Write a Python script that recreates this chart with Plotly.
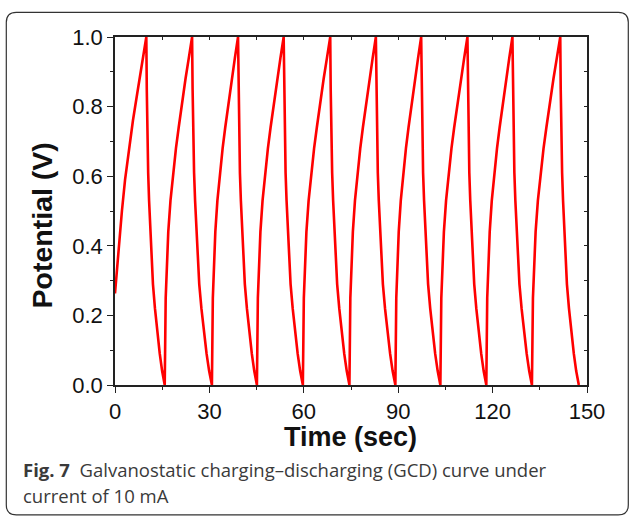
import plotly.graph_objects as go

# ---- data (time in s, potential in V) ----
time_s = [
    0.00, 0.60, 1.30, 2.20, 3.20, 4.40, 5.70, 7.10, 8.50, 9.95,
    10.10, 10.21, 10.34, 10.54, 10.83, 11.18, 11.53, 12.06, 12.70, 13.46, 14.22, 14.98, 15.80,
    16.11, 16.50, 16.93, 17.63, 18.50, 19.37, 20.24, 21.28, 22.41, 23.46, 24.50,
    24.66, 24.78, 24.92, 25.13, 25.45, 25.82, 26.20, 26.77, 27.46, 28.28, 29.10, 29.92, 30.80,
    31.09, 31.46, 31.88, 32.54, 33.37, 34.20, 35.03, 36.03, 37.11, 38.10, 39.10,
    39.25, 39.37, 39.50, 39.70, 40.00, 40.36, 40.72, 41.26, 41.92, 42.70, 43.48, 44.26, 45.10,
    45.40, 45.78, 46.21, 46.89, 47.74, 48.59, 49.44, 50.46, 51.56, 52.58, 53.60,
    53.75, 53.88, 54.01, 54.21, 54.52, 54.88, 55.25, 55.80, 56.47, 57.26, 58.05, 58.85, 59.70,
    60.01, 60.40, 60.83, 61.53, 62.40, 63.27, 64.14, 65.18, 66.31, 67.36, 68.40,
    68.55, 68.68, 68.81, 69.01, 69.32, 69.68, 70.05, 70.60, 71.27, 72.06, 72.85, 73.65, 74.50,
    74.79, 75.17, 75.59, 76.26, 77.10, 77.94, 78.78, 79.79, 80.88, 81.89, 82.90,
    83.06, 83.18, 83.32, 83.52, 83.83, 84.20, 84.57, 85.13, 85.81, 86.62, 87.43, 88.23, 89.10,
    89.39, 89.76, 90.17, 90.82, 91.64, 92.46, 93.28, 94.27, 95.33, 96.32, 97.30,
    97.45, 97.58, 97.71, 97.91, 98.22, 98.58, 98.95, 99.50, 100.17, 100.96, 101.75, 102.55, 103.40,
    103.70, 104.09, 104.52, 105.21, 106.07, 106.93, 107.79, 108.82, 109.94, 110.97, 112.00,
    112.15, 112.27, 112.40, 112.60, 112.90, 113.26, 113.62, 114.16, 114.82, 115.60, 116.38, 117.16, 118.00,
    118.29, 118.66, 119.08, 119.74, 120.57, 121.40, 122.23, 123.23, 124.31, 125.30, 126.30,
    126.46, 126.58, 126.72, 126.92, 127.23, 127.60, 127.97, 128.53, 129.21, 130.02, 130.83, 131.63, 132.50,
    132.82, 133.22, 133.67, 134.39, 135.29, 136.19, 137.09, 138.17, 139.34, 140.42, 141.50,
    141.65, 141.77, 141.90, 142.09, 142.39, 142.74, 143.09, 143.62, 144.27, 145.04, 145.81, 146.57, 147.40,
]
potential_v = [
    0.263, 0.33, 0.41, 0.50, 0.59, 0.68, 0.76, 0.84, 0.92, 1.00,
    0.85, 0.77, 0.70, 0.61, 0.53, 0.45, 0.37, 0.29, 0.22, 0.15, 0.09, 0.04, 0.00,
    0.25, 0.36, 0.44, 0.53, 0.61, 0.68, 0.74, 0.81, 0.88, 0.94, 1.00,
    0.85, 0.77, 0.70, 0.61, 0.53, 0.45, 0.37, 0.29, 0.22, 0.15, 0.09, 0.04, 0.00,
    0.25, 0.36, 0.44, 0.53, 0.61, 0.68, 0.74, 0.81, 0.88, 0.94, 1.00,
    0.85, 0.77, 0.70, 0.61, 0.53, 0.45, 0.37, 0.29, 0.22, 0.15, 0.09, 0.04, 0.00,
    0.25, 0.36, 0.44, 0.53, 0.61, 0.68, 0.74, 0.81, 0.88, 0.94, 1.00,
    0.85, 0.77, 0.70, 0.61, 0.53, 0.45, 0.37, 0.29, 0.22, 0.15, 0.09, 0.04, 0.00,
    0.25, 0.36, 0.44, 0.53, 0.61, 0.68, 0.74, 0.81, 0.88, 0.94, 1.00,
    0.85, 0.77, 0.70, 0.61, 0.53, 0.45, 0.37, 0.29, 0.22, 0.15, 0.09, 0.04, 0.00,
    0.25, 0.36, 0.44, 0.53, 0.61, 0.68, 0.74, 0.81, 0.88, 0.94, 1.00,
    0.85, 0.77, 0.70, 0.61, 0.53, 0.45, 0.37, 0.29, 0.22, 0.15, 0.09, 0.04, 0.00,
    0.25, 0.36, 0.44, 0.53, 0.61, 0.68, 0.74, 0.81, 0.88, 0.94, 1.00,
    0.85, 0.77, 0.70, 0.61, 0.53, 0.45, 0.37, 0.29, 0.22, 0.15, 0.09, 0.04, 0.00,
    0.25, 0.36, 0.44, 0.53, 0.61, 0.68, 0.74, 0.81, 0.88, 0.94, 1.00,
    0.85, 0.77, 0.70, 0.61, 0.53, 0.45, 0.37, 0.29, 0.22, 0.15, 0.09, 0.04, 0.00,
    0.25, 0.36, 0.44, 0.53, 0.61, 0.68, 0.74, 0.81, 0.88, 0.94, 1.00,
    0.85, 0.77, 0.70, 0.61, 0.53, 0.45, 0.37, 0.29, 0.22, 0.15, 0.09, 0.04, 0.00,
    0.25, 0.36, 0.44, 0.53, 0.61, 0.68, 0.74, 0.81, 0.88, 0.94, 1.00,
    0.85, 0.77, 0.70, 0.61, 0.53, 0.45, 0.37, 0.29, 0.22, 0.15, 0.09, 0.04, 0.00,
]
x_ticks = [0, 30, 60, 90, 120, 150]
x_tick_labels = ["0", "30", "60", "90", "120", "150"]
y_ticks = [0.0, 0.2, 0.4, 0.6, 0.8, 1.0]
y_tick_labels = ["0.0", "0.2", "0.4", "0.6", "0.8", "1.0"]

x_title = "Time (sec)"
y_title = "Potential (V)"
caption_bold = "Fig. 7"
caption_line1 = "Galvanostatic charging–discharging (GCD) curve under"
caption_line2 = "current of 10 mA"

W, H = 629, 521
L, R, T, B = 114.7, 586.7, 36.7, 385.0
pw, ph = R - L, B - T


def px(xp):
    return (xp - L) / pw


def py(yp):
    return (B - yp) / ph


AX = "#222222"
tickfont = dict(family="Liberation Sans, Arial, sans-serif", size=22, color="#111111")

fig = go.Figure()
fig.add_trace(go.Scatter(x=time_s, y=potential_v, mode="lines",
                         line=dict(color="#ff0000", width=2.6),
                         hoverinfo="skip", showlegend=False))
# invisible trace for mirror axes
fig.add_trace(go.Scatter(x=[0], y=[0], xaxis="x2", yaxis="y2", mode="markers",
                         marker=dict(opacity=0), showlegend=False, hoverinfo="skip"))

fig.update_layout(
    width=W, height=H,
    margin=dict(l=L, r=W - R, t=T, b=H - B, pad=0),
    paper_bgcolor="white", plot_bgcolor="white",
    showlegend=False,
    xaxis=dict(range=[0, 150], tickvals=x_ticks, ticktext=x_tick_labels,
               ticks="outside", ticklen=6, tickwidth=1.3, tickcolor=AX,
               minor=dict(ticks="outside", ticklen=3.5, tickwidth=1.3, tickcolor=AX,
                          tickvals=[15, 45, 75, 105, 135]),
               showline=True, linecolor=AX, linewidth=1.5, showgrid=False,
               zeroline=False, tickfont=tickfont, fixedrange=True),
    yaxis=dict(range=[0, 1.0], tickvals=y_ticks, ticktext=y_tick_labels,
               ticks="outside", ticklen=6, tickwidth=1.3, tickcolor=AX,
               minor=dict(ticks="outside", ticklen=3.5, tickwidth=1.3, tickcolor=AX,
                          tickvals=[0.1, 0.3, 0.5, 0.7, 0.9]),
               showline=True, linecolor=AX, linewidth=1.5, showgrid=False,
               zeroline=False, tickfont=tickfont, fixedrange=True),
    xaxis2=dict(range=[0, 150], overlaying="x", side="top", anchor="y",
                tickvals=[0, 15, 30, 45, 60, 75, 90, 105, 120, 135, 150],
                ticks="inside", ticklen=3.5, tickwidth=1.3, tickcolor=AX,
                showticklabels=False, showline=True, linecolor=AX, linewidth=1.5,
                showgrid=False, zeroline=False, fixedrange=True),
    yaxis2=dict(range=[0, 1.0], overlaying="y", side="right", anchor="x",
                tickvals=[0, 0.1, 0.2, 0.3, 0.4, 0.5, 0.6, 0.7, 0.8, 0.9, 1.0],
                ticks="inside", ticklen=3.5, tickwidth=1.3, tickcolor=AX,
                showticklabels=False, showline=True, linecolor=AX, linewidth=1.5,
                showgrid=False, zeroline=False, fixedrange=True),
)

fig.add_annotation(text="<b>%s</b>" % x_title, xref="paper", yref="paper",
                   x=px(350), y=py(437), showarrow=False,
                   font=dict(family="Liberation Sans, Arial, sans-serif", size=27, color="#111111"),
                   xanchor="center", yanchor="middle")
fig.add_annotation(text="<b>%s</b>" % y_title, xref="paper", yref="paper",
                   x=px(42), y=py(225), showarrow=False,
                   font=dict(family="Liberation Sans, Arial, sans-serif", size=28.5, color="#111111"),
                   textangle=-90, xanchor="center", yanchor="middle")

capfont = dict(family="Open Sans, Noto Sans, sans-serif", size=18.5, color="#3a3a3a")
fig.add_annotation(text="<b>%s</b>  %s" % (caption_bold, caption_line1),
                   xref="paper", yref="paper", x=px(21), y=py(470),
                   showarrow=False, font=capfont, xanchor="left", yanchor="middle")
fig.add_annotation(text=caption_line2,
                   xref="paper", yref="paper", x=px(21), y=py(496),
                   showarrow=False, font=capfont, xanchor="left", yanchor="middle")

# rounded frame around the whole figure
x0, x1, y0, y1, r = px(6), px(628), py(515), py(12), 10
rx, ry = r / pw, r / ph
path = (f"M {x0 + rx} {y1} L {x1 - rx} {y1} Q {x1} {y1} {x1} {y1 - ry} "
        f"L {x1} {y0 + ry} Q {x1} {y0} {x1 - rx} {y0} "
        f"L {x0 + rx} {y0} Q {x0} {y0} {x0} {y0 + ry} "
        f"L {x0} {y1 - ry} Q {x0} {y1} {x0 + rx} {y1} Z")
fig.add_shape(type="path", path=path, xref="paper", yref="paper",
              line=dict(color="#333333", width=1.2), layer="below")

fig.write_html("out.html", config={"displayModeBar": False},
               post_script="document.body.style.margin='0';document.body.style.overflow='hidden';")
